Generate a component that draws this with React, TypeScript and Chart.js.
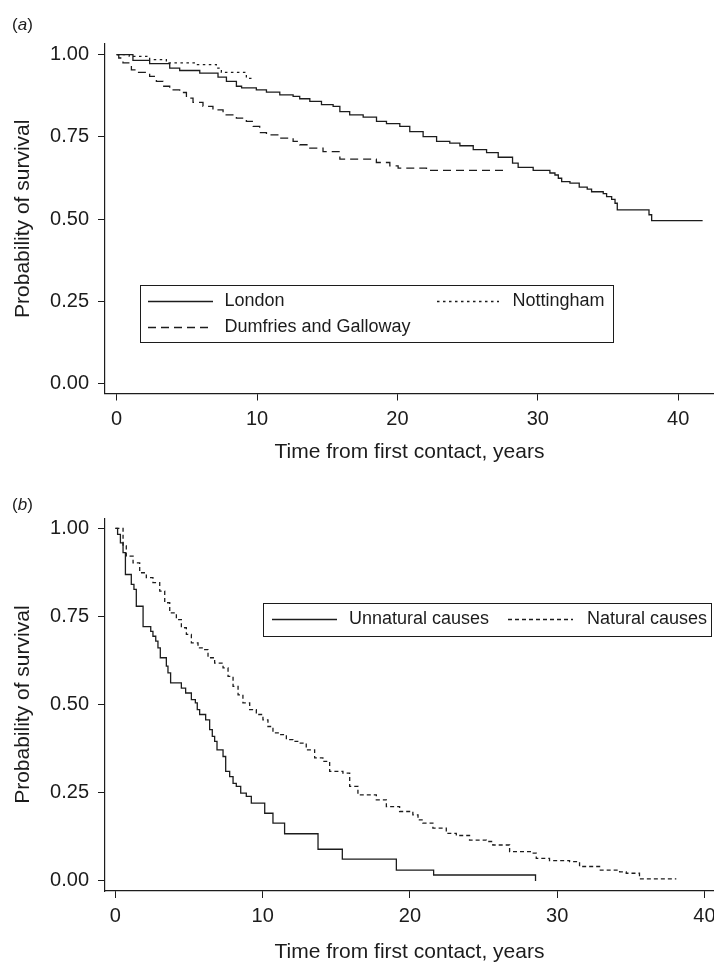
import React, { useEffect, useRef } from 'react';
import { Chart, registerables } from 'chart.js';

Chart.register(...registerables);

const FONT = '"Liberation Sans", Arial, Helvetica, sans-serif';
const INK = '#1c1c1c';

// ---------- Panel (a) data: Kaplan-Meier survival by site ----------
const londonT = [0, 1.16, 2.35, 3.78, 4.49, 5.92, 7.22, 7.82, 8.53, 8.9, 9.95, 10.67, 11.62, 12.57, 13.04, 13.76, 14.59, 15.42, 15.9, 16.6, 17.56, 18.51, 19.22, 20.17, 20.88, 21.83, 22.79, 23.73, 24.45, 25.4, 26.35, 27.18, 28.2, 28.6, 29.67, 30.86, 31.22, 31.46, 31.7, 32.29, 32.95, 33.52, 33.83, 34.66, 34.9, 35.26, 35.5, 35.66, 37.92, 38.11, 41.74];
const londonS = [1, 0.983, 0.973, 0.959, 0.952, 0.944, 0.932, 0.919, 0.904, 0.899, 0.893, 0.886, 0.878, 0.873, 0.866, 0.858, 0.848, 0.843, 0.827, 0.817, 0.81, 0.797, 0.79, 0.782, 0.766, 0.751, 0.736, 0.731, 0.723, 0.711, 0.702, 0.688, 0.67, 0.657, 0.648, 0.64, 0.634, 0.624, 0.614, 0.609, 0.597, 0.591, 0.583, 0.577, 0.568, 0.56, 0.548, 0.528, 0.513, 0.495, 0.495];

const dumfriesT = [0, 0.15, 0.45, 1.05, 1.4, 2.35, 2.83, 3.3, 3.78, 4.49, 4.97, 5.44, 6.15, 6.86, 7.58, 8.53, 9.24, 9.72, 10.19, 10.67, 11.62, 12.57, 13.04, 13.76, 14.7, 15.9, 18.5, 19.46, 20.05, 22.07, 27.7];
const dumfriesS = [1, 0.99, 0.975, 0.954, 0.946, 0.934, 0.919, 0.904, 0.893, 0.885, 0.868, 0.855, 0.843, 0.832, 0.817, 0.807, 0.797, 0.782, 0.763, 0.756, 0.746, 0.736, 0.726, 0.716, 0.705, 0.682, 0.672, 0.662, 0.655, 0.648, 0.648];

const nottT = [0, 0.9, 2.35, 3.54, 5.68, 7.1, 7.46, 9.24, 9.72];
const nottS = [1, 0.995, 0.985, 0.975, 0.97, 0.959, 0.946, 0.928, 0.928];

// ---------- Panel (b) data: Kaplan-Meier survival by cause of death ----------
const unnaturalT = [0, 0.15, 0.34, 0.52, 0.68, 1.08, 1.26, 1.42, 1.88, 2.4, 2.55, 2.74, 2.89, 3.05, 3.46, 3.57, 3.75, 4.48, 4.77, 5.16, 5.43, 5.56, 5.72, 6.13, 6.4, 6.58, 6.74, 6.9, 7.31, 7.49, 7.76, 7.99, 8.21, 8.51, 8.89, 9.23, 10.14, 10.7, 11.49, 13.76, 15.41, 19.08, 21.61, 28.53];
const unnaturalS = [1, 0.983, 0.959, 0.931, 0.869, 0.841, 0.827, 0.779, 0.721, 0.708, 0.694, 0.68, 0.661, 0.633, 0.609, 0.59, 0.562, 0.547, 0.533, 0.514, 0.505, 0.486, 0.472, 0.457, 0.429, 0.41, 0.396, 0.372, 0.353, 0.311, 0.296, 0.277, 0.268, 0.249, 0.24, 0.221, 0.192, 0.164, 0.134, 0.09, 0.062, 0.031, 0.017, 0];

const naturalT = [0, 0.52, 0.74, 1.2, 1.65, 2.1, 2.55, 3.01, 3.35, 3.69, 4.14, 4.48, 4.82, 5.16, 5.61, 5.95, 6.29, 6.74, 7.31, 7.65, 7.99, 8.33, 8.66, 9.12, 9.57, 10.02, 10.36, 10.7, 11.15, 11.61, 12.06, 12.51, 12.96, 13.53, 14.09, 14.55, 15.45, 15.91, 16.47, 17.72, 18.4, 19.3, 20.2, 20.55, 20.88, 21.56, 22.47, 23.15, 24.05, 25.19, 25.63, 26.77, 28.24, 28.58, 29.48, 30.84, 31.52, 32.88, 34.24, 34.69, 35.59, 38.09];
const naturalS = [1, 0.95, 0.921, 0.902, 0.874, 0.86, 0.846, 0.822, 0.789, 0.76, 0.741, 0.718, 0.699, 0.675, 0.661, 0.656, 0.633, 0.618, 0.604, 0.58, 0.552, 0.528, 0.505, 0.486, 0.472, 0.457, 0.438, 0.42, 0.415, 0.401, 0.396, 0.391, 0.372, 0.349, 0.339, 0.311, 0.306, 0.268, 0.244, 0.23, 0.211, 0.197, 0.1875, 0.173, 0.164, 0.15, 0.135, 0.129, 0.116, 0.112, 0.102, 0.083, 0.079, 0.064, 0.058, 0.055, 0.041, 0.031, 0.026, 0.022, 0.006, 0.006];

// ---------- Axis ticks and labels ----------
const xTicks = [0, 10, 20, 30, 40];
const yTicks = [0, 0.25, 0.5, 0.75, 1];
const xTitle = 'Time from first contact, years';
const yTitle = 'Probability of survival';
const seriesA = ['London', 'Dumfries and Galloway', 'Nottingham'];
const seriesB = ['Unnatural causes', 'Natural causes'];

function pts(t: number[], s: number[]) {
  return t.map((x, i) => ({ x, y: s[i] }));
}

function line(label: string, data: any[], dash: number[]) {
  return {
    label,
    data,
    borderColor: INK,
    borderWidth: 1.3,
    borderDash: dash,
    stepped: true,
    pointRadius: 0,
    fill: false,
  };
}

type LegendCfg = {
  box: [number, number, number, number];
  items: { ds: number; x1: number; x2: number; tx: number; y: number }[];
};

function legendPlugin(cfg: LegendCfg) {
  return {
    id: 'kmLegend',
    afterDraw(chart: any) {
      const ctx = chart.ctx;
      ctx.save();
      const [l, t, r, b] = cfg.box;
      ctx.strokeStyle = INK;
      ctx.lineWidth = 1;
      ctx.setLineDash([]);
      ctx.strokeRect(Math.round(l) + 0.5, Math.round(t) + 0.5, Math.round(r - l), Math.round(b - t));
      ctx.font = `18px ${FONT}`;
      ctx.fillStyle = INK;
      ctx.textBaseline = 'middle';
      ctx.textAlign = 'left';
      for (const it of cfg.items) {
        const ds = chart.data.datasets[it.ds];
        ctx.setLineDash(ds.borderDash || []);
        ctx.lineWidth = ds.borderWidth;
        ctx.beginPath();
        ctx.moveTo(it.x1, it.y + 0.5);
        ctx.lineTo(it.x2, it.y + 0.5);
        ctx.stroke();
        ctx.setLineDash([]);
        ctx.fillText(ds.label, it.tx, it.y);
      }
      ctx.restore();
    },
  };
}

type AxisCfg = {
  xMin: number; xMax: number; yMin: number; yMax: number;
  padTop: number; xAxisH: number; xTickPad: number; xTitlePad: number;
};

function makeOptions(c: AxisCfg) {
  const tickFont = { family: FONT, size: 20 };
  const titleFont = { family: FONT, size: 21 };
  return {
    animation: false,
    responsive: false,
    maintainAspectRatio: false,
    layout: { padding: { top: c.padTop, left: 0, right: 0, bottom: 0 } },
    plugins: { legend: { display: false }, tooltip: { enabled: false } },
    events: [],
    scales: {
      x: {
        type: 'linear',
        min: c.xMin,
        max: c.xMax,
        afterBuildTicks: (s: any) => { s.ticks = xTicks.map((v) => ({ value: v })); },
        afterFit: (s: any) => { s.height = c.xAxisH; s.paddingLeft = 0; s.paddingRight = 0; },
        grid: { display: true, drawOnChartArea: false, drawTicks: true, tickLength: 7, color: INK, lineWidth: 1 },
        border: { display: true, color: INK, width: 1.2 },
        ticks: {
          color: INK, font: tickFont, padding: c.xTickPad, maxRotation: 0, autoSkip: false,
          callback: (v: any) => String(v),
        },
        title: { display: true, text: xTitle, color: INK, font: { ...titleFont, lineHeight: 1.2 }, padding: { top: 0, bottom: c.xTitlePad } },
      },
      y: {
        type: 'linear',
        min: c.yMin,
        max: c.yMax,
        afterBuildTicks: (s: any) => { s.ticks = yTicks.map((v) => ({ value: v })); },
        afterFit: (s: any) => { s.width = 105; s.paddingTop = 0; s.paddingBottom = 0; },
        grid: { display: true, drawOnChartArea: false, drawTicks: true, tickLength: 7, color: INK, lineWidth: 1 },
        border: { display: true, color: INK, width: 1.2 },
        ticks: {
          color: INK, font: tickFont, padding: 9, autoSkip: false,
          callback: (v: any) => Number(v).toFixed(2),
        },
        title: { display: true, text: yTitle, color: INK, font: { family: FONT, size: 21, lineHeight: 1.2 }, padding: { top: 10.5, bottom: 0 } },
      },
    },
  };
}

function KMChart(props: { datasets: any[]; axis: AxisCfg; legend: LegendCfg; top: number }) {
  const ref = useRef<HTMLCanvasElement | null>(null);
  useEffect(() => {
    if (!ref.current) return;
    const chart = new Chart(ref.current, {
      type: 'line',
      data: { datasets: props.datasets },
      options: makeOptions(props.axis) as any,
      plugins: [legendPlugin(props.legend)],
    });
    return () => chart.destroy();
  }, []);
  return (
    <canvas
      ref={ref}
      width={714}
      height={481}
      style={{ position: 'absolute', left: 0, top: props.top, width: 714, height: 481, display: 'block' }}
    />
  );
}

export default function App() {
  const dsA = [
    line(seriesA[0], pts(londonT, londonS), []),
    line(seriesA[1], pts(dumfriesT, dumfriesS), [8, 5]),
    line(seriesA[2], pts(nottT, nottS), [2.5, 3.5]),
  ];
  const dsB = [
    line(seriesB[0], pts(unnaturalT, unnaturalS), []),
    line(seriesB[1], pts(naturalT, naturalS), [4, 3]),
  ];
  const axisA: AxisCfg = { xMin: -0.83, xMax: 42.55, yMin: -0.031, yMax: 1.0326, padTop: 44, xAxisH: 87.5, xTickPad: 7, xTitlePad: 15.7 };
  const axisB: AxisCfg = { xMin: -0.706, xMax: 40.65, yMin: -0.0284, yMax: 1.0284, padTop: 37.3, xAxisH: 71, xTickPad: 6, xTitlePad: -3.3 };
  const legendA: LegendCfg = {
    box: [140, 285, 613, 342],
    items: [
      { ds: 0, x1: 148, x2: 213, tx: 224.5, y: 301 },
      { ds: 1, x1: 148, x2: 213, tx: 224.5, y: 327 },
      { ds: 2, x1: 437, x2: 499, tx: 512.5, y: 301 },
    ],
  };
  const legendB: LegendCfg = {
    box: [263, 122, 711, 155],
    items: [
      { ds: 0, x1: 272, x2: 337, tx: 349, y: 138 },
      { ds: 1, x1: 508, x2: 573, tx: 587, y: 138 },
    ],
  };
  const panelLabel: React.CSSProperties = {
    position: 'absolute', left: 12, fontFamily: FONT, fontSize: 17, lineHeight: '17px', color: INK, margin: 0,
  };
  return (
    <div style={{ position: 'absolute', left: 0, top: 0, width: 714, height: 962, background: '#fff', overflow: 'hidden' }}>
      <KMChart datasets={dsA} axis={axisA} legend={legendA} top={0} />
      <KMChart datasets={dsB} axis={axisB} legend={legendB} top={481} />
      <div style={{ ...panelLabel, top: 16 }}>(<i>a</i>)</div>
      <div style={{ ...panelLabel, top: 496 }}>(<i>b</i>)</div>
    </div>
  );
}
